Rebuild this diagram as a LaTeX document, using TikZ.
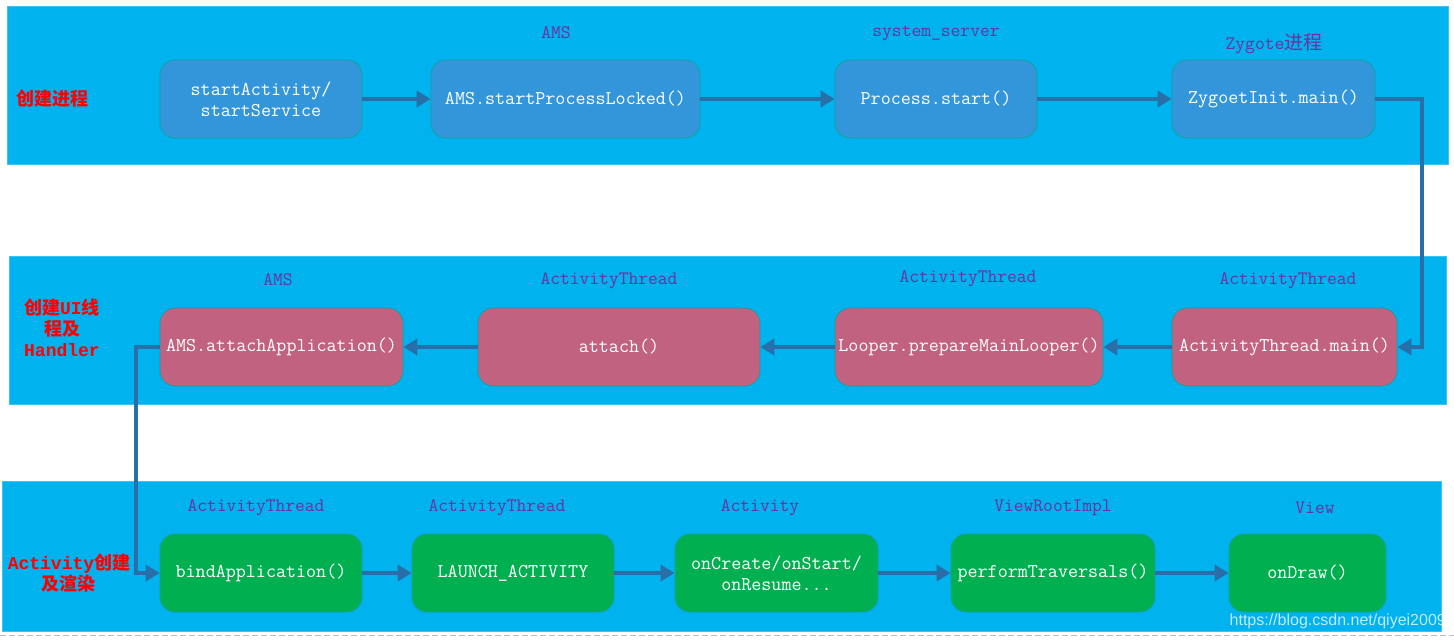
\documentclass[tikz,border=0pt]{standalone}
\usepackage{fontspec}
\newfontfamily\cjk{Noto Sans CJK SC}
\newfontfamily\redmono{Liberation Mono}
\newfontfamily\wmfont{Liberation Sans}
\usetikzlibrary{arrows.meta}
\definecolor{band}{RGB}{0,178,238}
\definecolor{bandedge}{RGB}{60,195,245}
\definecolor{bluebox}{RGB}{52,150,218}
\definecolor{pinkbox}{RGB}{192,98,128}
\definecolor{greenbox}{RGB}{0,176,80}
\definecolor{boxedge}{RGB}{20,160,160}
\definecolor{arrowc}{RGB}{40,110,168}
\definecolor{lblc}{RGB}{112,48,160}
\definecolor{dashc}{RGB}{190,190,190}
\tikzset{
  bandbox/.style={fill=band, draw=bandedge, line width=1pt},
  fbox/.style={rounded corners=15pt, draw=boxedge, line width=0.8pt, text=white,
    minimum height=78pt, align=center, inner sep=1pt,
    font=\ttfamily\fontsize{19.5}{21}\selectfont},
  bbox/.style={fbox, fill=bluebox},
  pbox/.style={fbox, fill=pinkbox},
  gbox/.style={fbox, fill=greenbox},
  lbl/.style={text=lblc, font=\ttfamily\fontsize{19}{20}\selectfont, inner sep=0pt},
  redlbl/.style={text=red, align=center, inner sep=0pt, font=\bfseries\fontsize{18}{21}\selectfont},
  arr/.style={draw=arrowc, line width=4pt, -{Triangle[length=14pt,width=16pt]}},
}
\begin{document}
\begin{tikzpicture}[x=1pt,y=-1pt]
\useasboundingbox (0,0) rectangle (1454,641);
\fill[white] (0,0) rectangle (1454,641);
% bands
\path[bandbox] (7,6) rectangle (1448,164);
\path[bandbox] (9,256) rectangle (1446,404);
\path[bandbox] (2,481) rectangle (1441,631);
\draw[dashc, line width=1pt, dash pattern=on 6pt off 3pt] (0,635) -- (1454,635);

% row labels
\node[redlbl, anchor=west] (r1) at (16,99) {\cjk 创建进程};
\node[redlbl] (r2) at (62,328) {{\cjk 创建}{\redmono UI}{\cjk 线}\\{\cjk 程及}\\{\redmono Handler}};
\node[redlbl] (r3) at (69,573) {{\redmono Activity}{\cjk 创建}\\{\cjk 及渲染}};

% row 1
\node[bbox, minimum width=202pt] (n1) at (261,99) {startActivity/\\startService};
\node[bbox, minimum width=269pt] (n2) at (565.5,99) {AMS.startProcessLocked()};
\node[bbox, minimum width=202pt] (n3) at (936,99) {Process.start()};
\node[bbox, minimum width=203pt] (n4) at (1273.5,99) {ZygoetInit.main()};
\node[lbl] (l2) at (556,33) {AMS};
\node[lbl] (l3) at (936,33) {system\_server};
\node[lbl] (l4) at (1274,44) {Zygote{\cjk 进程}};

% row 2
\node[pbox, minimum width=243pt] (n5) at (281.5,347) {AMS.attachApplication()};
\node[pbox, minimum width=282pt] (n6) at (619,347) {attach()};
\node[pbox, minimum width=268pt] (n7) at (969,347) {Looper.prepareMainLooper()};
\node[pbox, minimum width=225pt] (n8) at (1284.5,347) {ActivityThread.main()};
\node[lbl] (l5) at (278,280) {AMS};
\node[lbl] (l6) at (609,281) {ActivityThread};
\node[lbl] (l7) at (968,279) {ActivityThread};
\node[lbl] (l8) at (1288,281) {ActivityThread};

% row 3
\node[gbox, minimum width=202pt] (n9) at (261,573) {bindApplication()};
\node[gbox, minimum width=202pt] (n10) at (513,573) {LAUNCH\_ACTIVITY};
\node[gbox, minimum width=203pt] (n11) at (776.5,573) {onCreate/onStart/\\onResume...};
\node[gbox, minimum width=204pt] (n12) at (1053,573) {performTraversals()};
\node[gbox, minimum width=157pt] (n13) at (1307.5,573) {onDraw()};
\node[lbl] (l9) at (256,508) {ActivityThread};
\node[lbl] (l10) at (497,508) {ActivityThread};
\node[lbl] (l11) at (760,508) {Activity};
\node[lbl] (l12) at (1053,508) {ViewRootImpl};
\node[lbl] (l13) at (1315,508) {View};

% connectors
\coordinate (c1) at (1422,0);
\coordinate (c2) at (136,0);
\draw[arr] (n1) -- (n2);
\draw[arr] (n2) -- (n3);
\draw[arr] (n3) -- (n4);
\draw[arr] (n4.east) -- (n4.east -| c1) |- (n8.east);
\draw[arr] (n8) -- (n7);
\draw[arr] (n7) -- (n6);
\draw[arr] (n6) -- (n5);
\draw[arr] (n5.west) -- (n5.west -| c2) |- (n9.west);
\draw[arr] (n9) -- (n10);
\draw[arr] (n10) -- (n11);
\draw[arr] (n11) -- (n12);
\draw[arr] (n12) -- (n13);

% watermark
\node[text=white, opacity=0.75, font=\wmfont\fontsize{16}{20}\selectfont, anchor=east, inner sep=0pt] (wm) at (1446,621) {https://blog.csdn.net/qiyei2009};
\end{tikzpicture}
\end{document}
